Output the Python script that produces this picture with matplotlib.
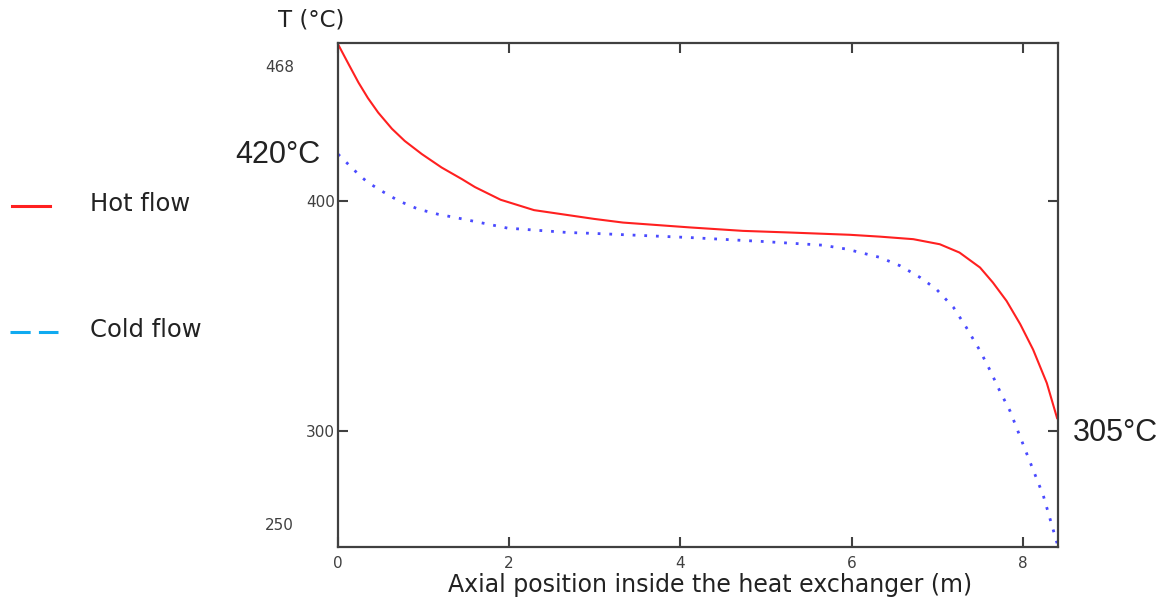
import matplotlib.pyplot as plt
from matplotlib.lines import Line2D

# values
x_hot = [0.0, 0.12, 0.24, 0.35, 0.47, 0.63, 0.78, 0.98, 1.21, 1.45, 1.60, 1.90,
         2.29, 2.99, 3.33, 4.11, 4.73, 5.27, 5.98, 6.33, 6.72, 7.03, 7.26, 7.50,
         7.65, 7.81, 7.97, 8.12, 8.28, 8.40]
T_hot = [468.0, 459.6, 451.3, 444.6, 438.3, 431.3, 426.0, 420.3, 414.5, 409.4, 406.0, 400.5,
         396.0, 392.2, 390.6, 388.5, 387.0, 386.3, 385.3, 384.5, 383.4, 381.2, 377.6, 371.1,
         364.6, 356.6, 346.5, 335.5, 321.0, 305.8]

x_cold = [0.0, 0.12, 0.26, 0.35, 0.51, 0.71, 0.94, 1.17, 1.37, 1.98, 2.68, 2.99,
          4.11, 4.96, 5.66, 5.94, 6.33, 6.57, 6.80, 6.99, 7.19, 7.34, 7.50, 7.62,
          7.73, 7.85, 8.04, 8.24, 8.40]
T_cold = [420.3, 415.9, 410.8, 408.0, 404.3, 400.0, 396.4, 394.2, 392.8, 388.2, 386.3, 385.9,
          384.1, 382.4, 380.8, 379.1, 375.5, 371.8, 366.8, 361.7, 353.8, 345.1, 335.0, 326.3,
          317.6, 308.9, 290.9, 272.1, 251.5]

x_ticks = [0, 2, 4, 6, 8]
y_ticks = [300, 400]
y_min, y_max = 250, 468.5

fig = plt.figure(figsize=(11.65, 6.01), dpi=100)
ax = fig.add_axes([0.2901, 0.0903, 0.6180, 0.8382])

ax.plot(x_hot, T_hot, color='#ff2020', lw=1.5)
ax.plot(x_cold, T_cold, color='#4a4aff', lw=2.0, linestyle=(0, (1, 3.2)))

ax.set_xlim(0, 8.41)
ax.set_ylim(y_min, y_max)
ax.set_xticks(x_ticks)
ax.set_yticks(y_ticks)
ax.tick_params(direction='in', length=7, width=1.5, color='#404040',
               top=True, right=True, labelsize=11, labelcolor='#404040')
ax.tick_params(axis='x', pad=7)
ax.tick_params(axis='y', pad=2)
for s in ax.spines.values():
    s.set_color('#404040')
    s.set_linewidth(1.6)

# limit labels like the original plot
ax.text(-0.684, 458.0, '468', fontsize=11, color='#404040', ha='center', va='center')
ax.text(-0.684, 259.4, '250', fontsize=11, color='#404040', ha='center', va='center')

ax.text(-0.2, 420, '420°C', fontsize=22, family='Liberation Sans', color='#222222',
        ha='right', va='center')
ax.text(8.585, 299.5, '305°C', fontsize=22, family='Liberation Sans', color='#222222',
        ha='left', va='center')

fig.text(278 / 1165, 1 - 20 / 601, 'T (°C)', fontsize=16.5, color='#222222',
         ha='left', va='center')
fig.text(710 / 1165, 1 - 585 / 601, 'Axial position inside the heat exchanger (m)',
         fontsize=17, color='#222222', ha='center', va='center')

# legend drawn at the left side
fig.add_artist(Line2D([12 / 1165, 50 / 1165], [1 - 206 / 601] * 2, color='#ff2020', lw=2.2))
fig.add_artist(Line2D([10 / 1165, 58 / 1165], [1 - 332 / 601] * 2, color='#10aaf0', lw=2.2,
                      linestyle=(0, (6.6, 2.7))))
fig.text(90 / 1165, 1 - 204 / 601, 'Hot flow', fontsize=17.5, color='#222222', va='center')
fig.text(90 / 1165, 1 - 330 / 601, 'Cold flow', fontsize=17.5, color='#222222', va='center')

fig.savefig('out.png', dpi=100)
